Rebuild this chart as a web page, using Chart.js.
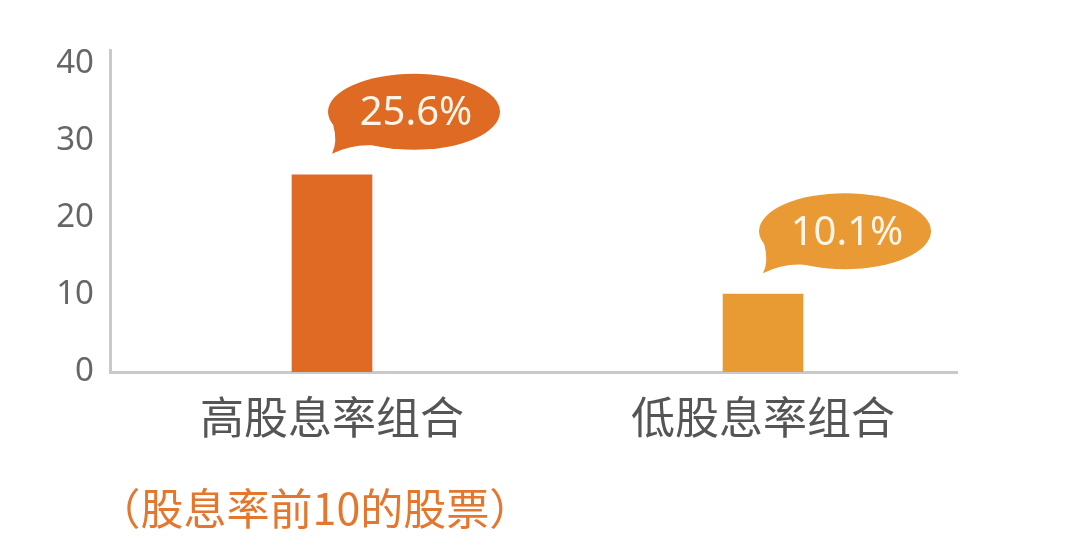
<!DOCTYPE html>
<html>
<head>
<meta charset="utf-8">
<script src="https://cdn.jsdelivr.net/npm/chart.js@4"></script>
<style>
  html,body{margin:0;padding:0;background:#ffffff;}
  #wrap{width:1080px;height:547px;position:relative;}
</style>
</head>
<body>
<div id="wrap"><canvas id="c" width="1080" height="547"></canvas></div>
<script>
// ---- data ----
const categories = ["高股息率组合", "低股息率组合"];
const subtitles = ["（股息率前10的股票）", ""];
const values = [25.6, 10.1];
const valueLabels = ["25.6%", "10.1%"];
const yTicks = [0, 10, 20, 30, 40];

// ---- styles ----
const barColors = ["#E06924", "#E99B33"];
const bubbleColors = ["#DE6A24", "#E99A34"];
const axisColor = "#c9c9c9";
const cjkFont = "'Noto Sans CJK SC', 'Noto Sans', sans-serif";

const bubblePlugin = {
  id: "bubbles",
  afterDatasetsDraw(chart) {
    const ctx = chart.ctx;
    const meta = chart.getDatasetMeta(0);
    meta.data.forEach((bar, i) => {
      const cx = bar.x + 82;
      const cy = bar.y - 63;
      const rx = 86, ry = 38;
      ctx.save();
      ctx.fillStyle = bubbleColors[i];
      ctx.beginPath();
      ctx.ellipse(cx, cy, rx, ry, 0, 0, Math.PI * 2);
      ctx.fill();
      // tail
      const a1 = 160 * Math.PI / 180, a2 = 118 * Math.PI / 180;
      const p1x = cx + rx * Math.cos(a1), p1y = cy + ry * Math.sin(a1);
      const p2x = cx + rx * Math.cos(a2), p2y = cy + ry * Math.sin(a2);
      const tx = cx - 82, ty = cy + 42;
      ctx.beginPath();
      ctx.moveTo(p1x, p1y);
      ctx.quadraticCurveTo(cx - 76, cy + 30, tx, ty);
      ctx.quadraticCurveTo(cx - 62, cy + 32, p2x, p2y);
      ctx.lineTo(cx, cy);
      ctx.closePath();
      ctx.fill();
      // text
      ctx.fillStyle = "#fff6e8";
      ctx.font = "40px 'Noto Sans', sans-serif";
      ctx.textAlign = "center";
      ctx.textBaseline = "middle";
      ctx.fillText(valueLabels[i], cx + 2, cy + 2);
      ctx.restore();
    });
  },
  afterDraw(chart) {
    const ctx = chart.ctx;
    const xs = chart.scales.x;
    ctx.save();
    ctx.font = "43px " + cjkFont;
    ctx.fillStyle = "#E3772E";
    ctx.textAlign = "center";
    ctx.textBaseline = "middle";
    subtitles.forEach((s, i) => {
      if (!s) return;
      ctx.fillText(s, xs.getPixelForValue(i + 1) - 17, xs.top + 137);
    });
    ctx.restore();
  }
};

new Chart(document.getElementById("c"), {
  type: "bar",
  data: {
    datasets: [{
      data: values.map((v, i) => ({ x: i + 1, y: v })),
      backgroundColor: barColors,
      barThickness: 80,
      borderWidth: 0
    }]
  },
  options: {
    responsive: false,
    animation: false,
    devicePixelRatio: 1,
    layout: { padding: { left: 0, right: 123, top: 50, bottom: 0 } },
    plugins: { legend: { display: false }, tooltip: { enabled: false } },
    scales: {
      x: {
        type: "linear",
        offset: false,
        min: 0.485,
        max: 2.45,
        afterFit(s) { s.height = 175; },
        afterBuildTicks(s) { s.ticks = categories.map((c, i) => ({ value: i + 1 })); },
        grid: { display: false, drawTicks: false },
        border: { display: true, color: axisColor, width: 3 },
        ticks: {
          autoSkip: false,
          maxRotation: 0,
          padding: 19,
          color: "#555555",
          font: { family: cjkFont, size: 44 },
          callback: (v) => categories[Math.round(v) - 1] || ""
        }
      },
      y: {
        min: 0,
        max: 41.8,
        afterFit(s) { s.width = 110; },
        afterBuildTicks(s) { s.ticks = yTicks.map(v => ({ value: v })); },
        grid: { display: false, drawTicks: false },
        border: { display: true, color: axisColor, width: 3 },
        ticks: {
          padding: 16,
          color: "#666666",
          font: { family: "'Noto Sans', sans-serif", size: 33 }
        }
      }
    }
  },
  plugins: [bubblePlugin]
});
</script>
</body>
</html>
